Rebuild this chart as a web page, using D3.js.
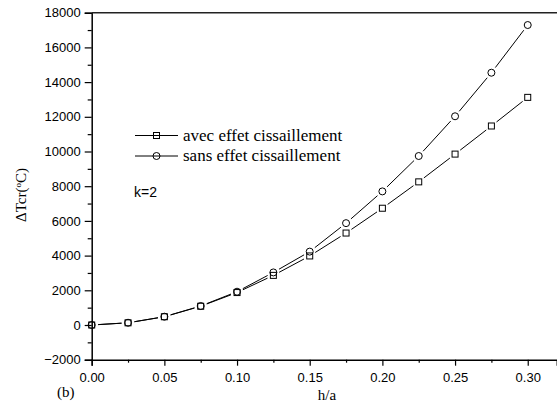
<!DOCTYPE html>
<html><head><meta charset="utf-8">
<script src="https://cdn.jsdelivr.net/npm/d3@7"></script>
<style>body{margin:0;background:#fff}svg{display:block}</style>
</head><body>
<svg id="c" width="557" height="407"></svg>
<script>
const hA = [0, 0.025, 0.05, 0.075, 0.1, 0.125, 0.15, 0.175, 0.2, 0.225, 0.25, 0.275, 0.3];
const avec = [0, 125, 475, 1080, 1870, 2860, 3980, 5300, 6730, 8250, 9850, 11470, 13120];
const sans = [0, 130, 480, 1095, 1920, 3030, 4230, 5870, 7700, 9740, 12030, 14540, 17290];
const xTicks = [0, 0.05, 0.1, 0.15, 0.2, 0.25, 0.3];
const yTicks = [-2000, 0, 2000, 4000, 6000, 8000, 10000, 12000, 14000, 16000, 18000];
const seriesNames = ["avec effet cissaillement", "sans effet cissaillement"];

const svg = d3.select("#c");
const x = d3.scaleLinear().domain([0, 0.32]).range([91.7, 556.8]);
const y = d3.scaleLinear().domain([-2000, 18000]).range([359.7, 12.7]);

// x axis
svg.append("g").attr("transform", `translate(0,${y(-2000)})`)
  .call(d3.axisBottom(x).tickValues(xTicks).tickFormat(d3.format(".2f")).tickSize(6).tickPadding(7));
svg.append("g").attr("transform", `translate(0,${y(-2000)})`)
  .call(d3.axisBottom(x).tickValues(d3.range(0.025, 0.32, 0.05)).tickFormat("").tickSize(3))
  .select(".domain").remove();
// y axis
svg.append("g").attr("transform", `translate(${x(0)},0)`)
  .call(d3.axisLeft(y).tickValues(yTicks).tickFormat(d3.format("d")).tickSize(7).tickPadding(4));
svg.append("g").attr("transform", `translate(${x(0)},0)`)
  .call(d3.axisLeft(y).tickValues(d3.range(-1000, 18000, 2000)).tickFormat("").tickSize(4))
  .select(".domain").remove();
svg.selectAll(".domain").attr("stroke", "#000").attr("stroke-width", 1.5);
svg.selectAll(".tick line").attr("stroke", "#000").attr("stroke-width", 1.2);
svg.selectAll(".tick text").attr("font-family", "Liberation Sans, Arial, sans-serif").attr("font-size", 13).attr("fill", "#000");
// top frame line
svg.append("line").attr("x1", x(0)).attr("x2", 557).attr("y1", y(18000)).attr("y2", y(18000))
  .attr("stroke", "#222").attr("stroke-width", 1.5);

// series
function drawSeries(vals, marker) {
  const pts = hA.map((h, i) => [x(h), y(vals[i])]);
  const g = svg.append("g");
  const gap = 6.5;
  for (let i = 0; i < pts.length - 1; i++) {
    const [x1, y1] = pts[i], [x2, y2] = pts[i + 1];
    const dx = x2 - x1, dy = y2 - y1, L = Math.hypot(dx, dy);
    if (L <= 2 * gap) continue;
    const ux = dx / L, uy = dy / L;
    g.append("line").attr("x1", x1 + ux * gap).attr("y1", y1 + uy * gap)
      .attr("x2", x2 - ux * gap).attr("y2", y2 - uy * gap)
      .attr("stroke", "#000").attr("stroke-width", 1);
  }
  pts.forEach(p => drawMarker(g, p[0], p[1], marker));
}
function drawMarker(g, cx, cy, marker) {
  if (marker === "square") {
    g.append("rect").attr("x", cx - 3).attr("y", cy - 3).attr("width", 6).attr("height", 6)
      .attr("fill", "none").attr("stroke", "#000").attr("stroke-width", 1);
  } else {
    g.append("circle").attr("cx", cx).attr("cy", cy).attr("r", 3.5)
      .attr("fill", "none").attr("stroke", "#000").attr("stroke-width", 1);
  }
}
drawSeries(avec, "square");
drawSeries(sans, "circle");

// legend
const leg = svg.append("g");
[["square", 135.5], ["circle", 156]].forEach(([m, ly], i) => {
  leg.append("line").attr("x1", 135).attr("x2", 178).attr("y1", ly).attr("y2", ly)
    .attr("stroke", "#000").attr("stroke-width", 1);
  drawMarker(leg, 156.5, ly, m);
  leg.append("text").attr("x", 183).attr("y", ly + 5).text(seriesNames[i])
    .attr("font-family", "Liberation Serif, Times New Roman, serif").attr("font-size", 17);
});

svg.append("text").attr("x", 134).attr("y", 197).text("k=2")
  .attr("font-family", "Liberation Sans, Arial, sans-serif").attr("font-size", 14);

// axis titles
svg.append("text").attr("x", 327).attr("y", 400).attr("text-anchor", "middle").text("h/a")
  .attr("font-family", "Liberation Serif, Times New Roman, serif").attr("font-size", 15);
svg.append("text").attr("x", 57).attr("y", 397).text("(b)")
  .attr("font-family", "Liberation Serif, Times New Roman, serif").attr("font-size", 15);
const yl = svg.append("text").attr("transform", "translate(26,195) rotate(-90)").attr("text-anchor", "middle")
  .attr("font-family", "Liberation Serif, Times New Roman, serif").attr("font-size", 15);
yl.append("tspan").text("\u0394Tcr(");
yl.append("tspan").text("o").attr("font-size", 9).attr("dy", -5);
yl.append("tspan").text("C)").attr("dy", 5);
</script>
</body></html>
